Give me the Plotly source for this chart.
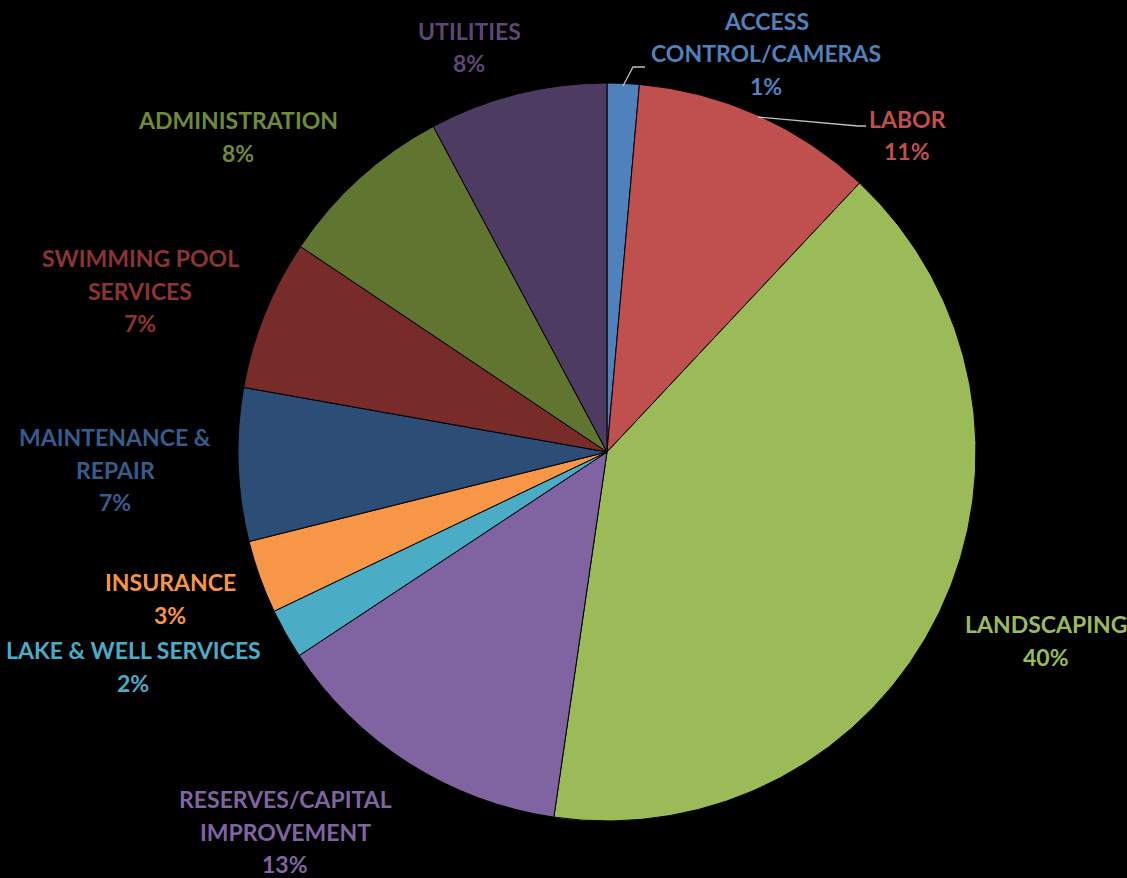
import plotly.graph_objects as go

W, H = 1127, 878

categories = ["ACCESS\nCONTROL/CAMERAS", "LABOR", "LANDSCAPING", "RESERVES/CAPITAL\nIMPROVEMENT",
              "LAKE & WELL SERVICES", "INSURANCE", "MAINTENANCE &\nREPAIR", "SWIMMING POOL\nSERVICES",
              "ADMINISTRATION", "UTILITIES"]
values = [1.4, 10.6, 40.3, 13.4, 2.2, 3.2, 6.7, 6.6, 7.8, 7.8]
colors = ["#4F81BD", "#C0504D", "#9BBB59", "#8064A2", "#4BACC6", "#F79646",
          "#2C4D75", "#772C2A", "#5F7530", "#4D3B62"]
text_colors = ["#4F81BD", "#C0504D", "#9BBB59", "#8064A2", "#4BACC6", "#F79646",
               "#355C8C", "#8C3431", "#6F8A38", "#5C4775"]

# label block positions (pixel centre x, first-line y)
label_pos = [(766, 21), (907, 119), (1046, 624), (285, 799), (133, 650),
             (170, 582), (115, 437), (140, 258), (238, 120), (469, 31)]
line_step = 32.5

cx, cy, r = 607, 452, 369

fig = go.Figure(go.Pie(
    labels=[c.replace("\n", " ") for c in categories],
    values=values,
    sort=False,
    direction="clockwise",
    rotation=0,
    marker=dict(colors=colors, line=dict(color="#000000", width=1)),
    textinfo="none",
    hoverinfo="label+percent",
    domain=dict(x=[(cx - r) / W, (cx + r) / W], y=[1 - (cy + r) / H, 1 - (cy - r) / H]),
    showlegend=False,
))

total = sum(values)
annotations = []
for cat, v, col, (px, py) in zip(categories, values, text_colors, label_pos):
    lines = cat.split("\n") + [f"{round(100 * v / total):.0f}%"]
    for i, ln in enumerate(lines):
        annotations.append(dict(
            x=px / W, y=1 - (py + i * line_step) / H, xref="paper", yref="paper",
            text=ln, showarrow=False, xanchor="center", yanchor="middle",
            font=dict(family="Lato", size=23, color=col, weight="bold"),
        ))

def seg(pts):
    path = "M " + " L ".join(f"{x / W},{1 - y / H}" for x, y in pts)
    return dict(type="path", path=path, xref="paper", yref="paper",
                line=dict(color="#BFBFBF", width=1.3))

shapes = [seg([(623, 86), (633, 67), (645, 67)]),
          seg([(758, 117), (858, 126), (866, 126)])]

fig.update_layout(
    width=W, height=H,
    margin=dict(l=0, r=0, t=0, b=0),
    paper_bgcolor="#000000", plot_bgcolor="#000000",
    annotations=annotations, shapes=shapes,
)

fig.write_html("out.html", config={"displayModeBar": False},
               post_script="document.body.style.margin='0';document.body.style.background='#000';"
                           "document.body.style.overflow='hidden';")
